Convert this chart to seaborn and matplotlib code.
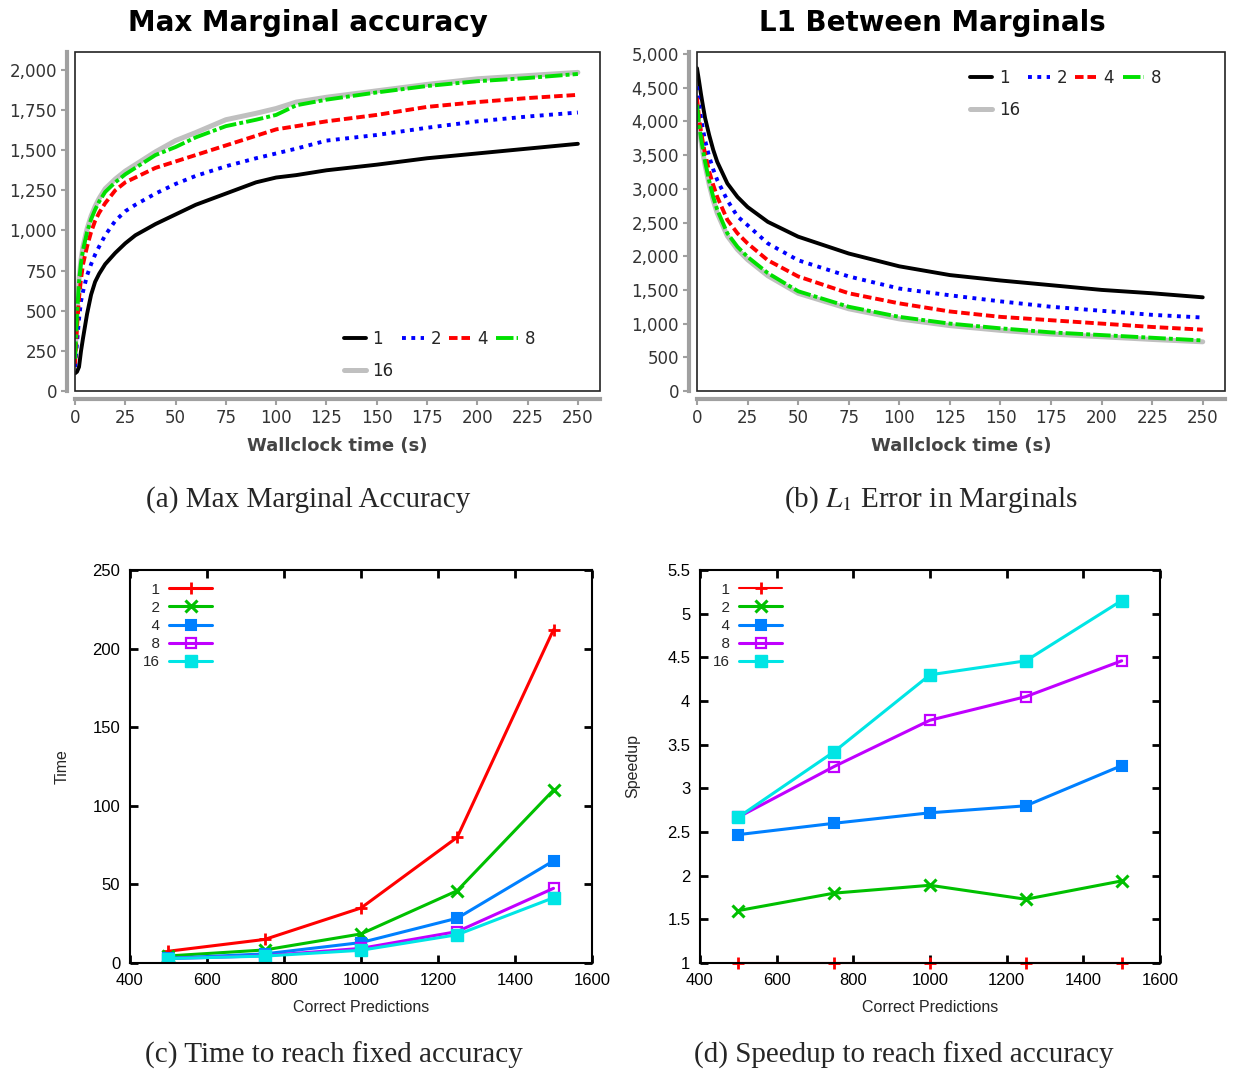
import matplotlib
matplotlib.use("Agg")
import matplotlib.pyplot as plt
from matplotlib.ticker import FuncFormatter, MultipleLocator
from matplotlib.patches import Rectangle
import seaborn as sns

# ---------------- data ----------------
series_names = ["1", "2", "4", "8", "16"]

# (a) max-marginal accuracy vs wallclock time
acc_time = [0, 1, 2, 3, 4, 6, 8, 10, 12, 15, 20, 25, 30, 40, 50, 60, 75, 90,
            100, 110, 125, 150, 175, 200, 225, 250]
acc_1 = [110, 120, 150, 250, 330, 480, 600, 680, 730, 790, 860, 920, 970, 1040,
         1100, 1160, 1230, 1300, 1330, 1345, 1375, 1410, 1450, 1480, 1510, 1540]
acc_2 = [150, 300, 450, 560, 620, 720, 790, 850, 900, 970, 1060, 1120, 1160, 1230,
         1290, 1340, 1400, 1450, 1480, 1510, 1560, 1595, 1640, 1680, 1710, 1735]
acc_4 = [170, 400, 580, 700, 790, 900, 990, 1060, 1110, 1170, 1250, 1300, 1330, 1390,
         1430, 1470, 1530, 1590, 1630, 1650, 1680, 1720, 1770, 1800, 1825, 1845]
acc_8 = [200, 480, 680, 800, 880, 990, 1070, 1130, 1180, 1240, 1300, 1350, 1390, 1470,
         1520, 1580, 1650, 1690, 1720, 1780, 1815, 1860, 1900, 1930, 1950, 1975]
acc_16 = [200, 500, 700, 820, 900, 1010, 1090, 1150, 1200, 1260, 1320, 1370, 1410, 1490,
          1560, 1610, 1690, 1730, 1760, 1800, 1830, 1870, 1910, 1945, 1965, 1985]

# (b) L1 error between marginals vs wallclock time
l1_time = [0, 1, 2, 3, 4, 6, 8, 10, 15, 20, 25, 35, 50, 75, 100, 125, 150, 175,
           200, 225, 250]
l1_1 = [4790, 4600, 4400, 4220, 4050, 3800, 3580, 3400, 3080, 2880, 2730, 2510,
        2290, 2040, 1850, 1720, 1640, 1570, 1500, 1450, 1390]
l1_2 = [4520, 4250, 4050, 3870, 3720, 3480, 3290, 3130, 2830, 2590, 2460, 2190,
        1940, 1700, 1520, 1420, 1330, 1250, 1190, 1130, 1090]
l1_4 = [4350, 4050, 3850, 3670, 3520, 3260, 3060, 2880, 2540, 2340, 2190, 1940,
        1700, 1450, 1300, 1180, 1100, 1050, 1000, 950, 910]
l1_8 = [4250, 3950, 3750, 3570, 3400, 3120, 2880, 2690, 2340, 2140, 1990, 1750,
        1480, 1250, 1100, 1000, 930, 870, 830, 790, 750]
l1_16 = [4200, 3900, 3700, 3520, 3350, 3070, 2830, 2640, 2300, 2100, 1950, 1710,
         1450, 1220, 1070, 970, 900, 845, 805, 765, 730]

# (c) time to reach a fixed number of correct predictions
correct_predictions = [500, 750, 1000, 1250, 1500]
time_1 = [7.5, 15, 35, 80, 212]
time_2 = [4.5, 8.3, 18.5, 46, 110]
time_4 = [3.0, 5.8, 13, 28.5, 65]
time_8 = [2.8, 4.6, 9.3, 20, 47.5]
time_16 = [2.8, 4.4, 8.1, 18, 41.5]

# (d) speedup relative to a single thread
speedup_1 = [1, 1, 1, 1, 1]
speedup_2 = [1.60, 1.80, 1.89, 1.73, 1.94]
speedup_4 = [2.47, 2.60, 2.72, 2.80, 3.26]
speedup_8 = [2.67, 3.25, 3.78, 4.05, 4.46]
speedup_16 = [2.67, 3.42, 4.30, 4.46, 5.15]

# ---------------- styling ----------------
sns.set_theme(style="white")
plt.rcParams["font.family"] = ["DejaVu Sans"]
plt.rcParams["mathtext.fontset"] = "stix"

W, H = 1233, 1072
fig = plt.figure(figsize=(W / 100, H / 100), dpi=100)
fig.patch.set_facecolor("white")


def box(x0, y0, x1, y1):
    return [x0 / W, 1 - y1 / H, (x1 - x0) / W, (y1 - y0) / H]


ax_a = fig.add_axes(box(75, 52, 600, 391))
ax_b = fig.add_axes(box(697, 52, 1225, 391))
ax_c = fig.add_axes(box(130, 570, 592, 963))
ax_d = fig.add_axes(box(700, 570, 1160, 963))

top_styles = {
    "1": dict(color="black", lw=2.8, ls="-"),
    "2": dict(color="#0000ff", lw=2.8, ls=(0, (1, 1.4))),
    "4": dict(color="#ff0000", lw=2.8, ls=(0, (2.2, 1.0))),
    "8": dict(color="#00e000", lw=2.8, ls=(0, (4.5, 0.8, 1, 0.8))),
    "16": dict(color="#c0c0c0", lw=3.6, ls="-"),
}
bottom_styles = {
    "1": dict(color="#ff0000", marker="+", ms=9, mew=2),
    "2": dict(color="#00c000", marker="x", ms=8, mew=2.2),
    "4": dict(color="#0080ff", marker="s", ms=7, mew=1.5),
    "8": dict(color="#c000ff", marker="s", ms=7.5, mew=1.6, mfc="none"),
    "16": dict(color="#00e5e5", marker="s", ms=8.5, mew=1),
}

thousands = FuncFormatter(lambda v, p: f"{v:,.0f}")
sans = ["Liberation Sans", "DejaVu Sans"]


def draw_top(ax, t, values, ymax, ystep, legend_loc, legend_anchor):
    handles = {}
    draw_order = ["16", "1", "2", "4", "8"]
    for name in draw_order:
        st = top_styles[name]
        sns.lineplot(x=t, y=values[name], ax=ax, color=st["color"],
                     linewidth=st["lw"], linestyle=st["ls"], errorbar=None,
                     label=name, legend=False)
        handles[name] = ax.lines[-1]
    ax.set_xlim(0, 261)
    ax.set_ylim(0, ymax)
    ax.xaxis.set_major_locator(MultipleLocator(25))
    ax.yaxis.set_major_locator(MultipleLocator(ystep))
    ax.yaxis.set_major_formatter(thousands)
    for s in ["top", "right"]:
        ax.spines[s].set_visible(False)
    for s in ["left", "bottom"]:
        ax.spines[s].set_position(("outward", 6))
        ax.spines[s].set_color("#a0a0a0")
        ax.spines[s].set_linewidth(3)
    ax.add_patch(Rectangle((0, 0), 1, 1, transform=ax.transAxes, fill=False,
                           ec="#222222", lw=1.2, clip_on=False, zorder=5))
    ax.tick_params(direction="out", length=4, width=1.5, color="#a0a0a0",
                   labelsize=12, labelcolor="#333333", pad=3,
                   left=True, bottom=True)
    ax.set_xlabel("Wallclock time (s)", fontsize=13, fontweight="bold",
                  color="#444444")
    ax.set_ylabel("")
    ax.xaxis.set_label_coords(0.50, -0.135)
    order = ["1", "16", "2", "4", "8"]
    ax.legend([handles[n] for n in order], order, ncol=4, loc=legend_loc,
              bbox_to_anchor=legend_anchor, frameon=False, fontsize=12,
              handlelength=1.3, handletextpad=0.4, columnspacing=0.5,
              labelspacing=0.85, borderaxespad=0)


draw_top(ax_a, acc_time,
         {"1": acc_1, "2": acc_2, "4": acc_4, "8": acc_8, "16": acc_16},
         2112, 250, "lower left", (0.50, 0.012))
draw_top(ax_b, l1_time,
         {"1": l1_1, "2": l1_2, "4": l1_4, "8": l1_8, "16": l1_16},
         5030, 500, "upper left", (0.505, 0.97))


def draw_bottom(ax, values, ylim, ystep, ylabel, fmt):
    handles = []
    for name in series_names:
        st = bottom_styles[name]
        on_floor = ylim[0] == min(values[name]) == max(values[name])
        sns.lineplot(x=correct_predictions, y=values[name], ax=ax,
                     color=st["color"], linewidth=1.5 if on_floor else 2.2,
                     marker=st["marker"], markersize=st["ms"],
                     markeredgewidth=st["mew"],
                     markerfacecolor=st.get("mfc", st["color"]),
                     markeredgecolor=st["color"], errorbar=None,
                     label=name, legend=False, clip_on=not on_floor)
        handles.append(ax.lines[-1])
    ax.set_xlim(400, 1600)
    ax.set_ylim(*ylim)
    ax.xaxis.set_major_locator(MultipleLocator(200))
    ax.yaxis.set_major_locator(MultipleLocator(ystep))
    ax.yaxis.set_major_formatter(fmt)
    for s in ax.spines.values():
        s.set_color("black")
        s.set_linewidth(1.5)
        s.set_zorder(3)
    ax.tick_params(direction="in", length=6, width=2, color="black",
                   labelsize=12, labelcolor="black", pad=7,
                   top=True, right=True, left=True, bottom=True)
    for lab in ax.get_xticklabels() + ax.get_yticklabels():
        lab.set_family(sans)
    ax.set_xlabel("Correct Predictions", fontsize=11.5, family=sans)
    ax.set_ylabel(ylabel, fontsize=11.5, family=sans)
    ax.xaxis.set_label_coords(0.5, -0.095)
    ax.yaxis.set_label_coords(-0.13, 0.5)
    labels = ["  1", "  2", "  4", "  8", "16"]
    leg = ax.legend(handles, labels, loc="upper left",
                    bbox_to_anchor=(0.005, 0.995), frameon=False,
                    markerfirst=False, fontsize=11, handlelength=2.8,
                    handletextpad=0.6, labelspacing=0.27, borderaxespad=0.3)
    for txt in leg.get_texts():
        txt.set_family(sans)


draw_bottom(ax_c,
            {"1": time_1, "2": time_2, "4": time_4, "8": time_8, "16": time_16},
            (0, 250), 50, "Time", FuncFormatter(lambda v, p: f"{v:g}"))
draw_bottom(ax_d,
            {"1": speedup_1, "2": speedup_2, "4": speedup_4, "8": speedup_8,
             "16": speedup_16},
            (1, 5.5), 0.5, "Speedup", FuncFormatter(lambda v, p: f"{v:g}"))

# panel titles
fig.text(308 / W, 1 - 23 / H, "Max Marginal accuracy", ha="center",
         va="center", fontsize=20, fontweight="bold", color="black")
fig.text(932 / W, 1 - 23 / H, "L1 Between Marginals", ha="center",
         va="center", fontsize=20, fontweight="bold", color="black")

# captions
serif = ["Liberation Serif", "DejaVu Serif"]
fig.text(308 / W, 1 - 500 / H, "(a) Max Marginal Accuracy", ha="center",
         va="center", fontsize=21, family=serif)
fig.text(931 / W, 1 - 500 / H, r"(b) $L_1$ Error in Marginals", ha="center",
         va="center", fontsize=21, family=serif)
fig.text(334 / W, 1 - 1055 / H, "(c) Time to reach fixed accuracy",
         ha="center", va="center", fontsize=21, family=serif)
fig.text(904 / W, 1 - 1055 / H, "(d) Speedup to reach fixed accuracy",
         ha="center", va="center", fontsize=21, family=serif)

fig.savefig("out.png", dpi=100, facecolor="white")
